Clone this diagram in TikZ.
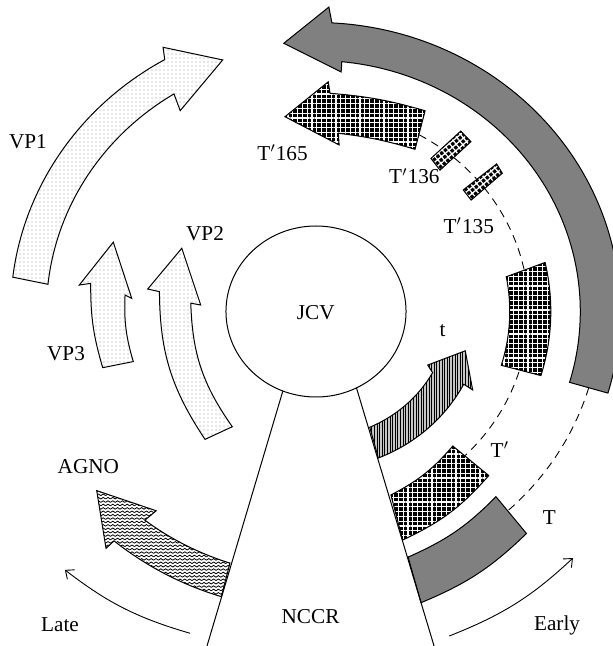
\documentclass[tikz,border=0pt]{standalone}
\usepackage{fontspec}
\setmainfont{Liberation Serif}
\usetikzlibrary{patterns,patterns.meta,arrows.meta}

% wavy fill of the agnoprotein arrow
\pgfdeclarepatternformonly{agnowave}{\pgfqpoint{-0.3pt}{-0.3pt}}{\pgfqpoint{2.7pt}{2pt}}{\pgfqpoint{2.4pt}{1.7pt}}{%
  \pgfsetlinewidth{0.4pt}%
  \pgfpathmoveto{\pgfqpoint{0pt}{0.4pt}}%
  \pgfpathcurveto{\pgfqpoint{0.5pt}{0.4pt}}{\pgfqpoint{0.7pt}{1.2pt}}{\pgfqpoint{1.2pt}{1.2pt}}%
  \pgfpathcurveto{\pgfqpoint{1.7pt}{1.2pt}}{\pgfqpoint{1.9pt}{0.4pt}}{\pgfqpoint{2.4pt}{0.4pt}}%
  \pgfusepath{stroke}}

\tikzset{
  outline/.style={draw=black,line width=0.5pt,line join=miter},
  dotfill/.style={outline,preaction={fill=white},pattern={Dots[distance=2pt,radius=0.3pt]},pattern color=gray!80},
  grayfill/.style={outline,fill=gray},
  checker/.style={outline,preaction={fill=black},pattern={Hatch[distance=2.4pt,line width=0.65pt,angle=#1]},pattern color=white},
  checker/.default=0,
  stripefill/.style={outline,preaction={fill=gray!45},pattern={Lines[angle=90,distance=1.3pt,line width=0.5pt]},pattern color=black},
  wavefill/.style={outline,preaction={fill=white},pattern=agnowave,pattern color=black},
  dashring/.style={line width=0.45pt,dash pattern=on 4pt off 3pt},
  phase/.style={line width=0.45pt,-{Straight Barb[length=3.5pt,width=6pt]}},
  lbl/.style={anchor=base,inner sep=0pt,font=\fontsize{10.6}{12}\selectfont},
}

\begin{document}
\begin{tikzpicture}[x=0.5pt,y=0.5pt]
 \begin{scope}[xscale=1.053]
   \useasboundingbox (-300.1,-334.5) rectangle (281.1,311.5);
   % dashed splice joins
   \draw[dashring] (61:202) arc[start angle=61,end angle=-45.5,radius=202];
   \draw[dashring] (-16.4:270) arc[start angle=-16.4,end angle=-47.5,radius=270];
   % late region
   \draw[dotfill] (173.2:290) arc[start angle=173.2,end angle=119.7,radius=290] -- (118.8:301.5) -- (109.4:266.7) -- (122.7:238.7) -- (121.8:256) arc[start angle=121.8,end angle=173.9,radius=256] -- cycle;
   \draw[dotfill] (195.5:210.2) to[bend left=8] (172.5:215.8) -- (173.3:226.4) -- (160.2:204.6) -- (175.7:175.5) -- (174.8:182.1) to[bend right=9] (196.1:180.6) -- cycle;
   \draw[dotfill] (230.5:165.7) to[bend left=16] (172.4:150) -- (172:161.4) -- (153.6:142.3) -- (176.6:109.7) -- (176:119.2) to[bend right=16] (235.4:140) -- cycle;
   \draw[wavefill] (252:264.5) arc[start angle=252,end angle=232.1,radius=264.5] -- (232.7:250.5) -- (220.7:274.7) -- (229.9:309.6) -- (230.1:299) arc[start angle=230.1,end angle=252.5,radius=299] -- cycle;
   % early region
   \draw[grayfill] (-16.4:289) arc[start angle=-16.4,end angle=87,radius=289] -- (87.7:304.7) -- (96.5:270) -- (84.3:240.7) -- (84.4:251) arc[start angle=84.4,end angle=-16.4,radius=251] -- cycle;
   \draw[checker] (62.7:225.9) to[bend right=6] (86.5:218.6) -- (87.1:230) -- (98.6:197) -- (82.5:168) -- (83.2:179.5) to[bend left=5] (59.9:187.5) -- cycle;
   \draw[checker=40] (54.5:188) -- (52.7:226.8) -- (49.1:224.7) -- (50.2:184) -- cycle;
   \draw[checker=40] (41:185.3) -- (40.7:226.3) -- (38:224.5) -- (37.1:184.7) -- cycle;
   \draw[checker] (10.9:184.4) -- (12.7:223) arc[start angle=12.7,end angle=-16.7,radius=223] -- (-17:184) arc[start angle=-17,end angle=10.9,radius=184] -- cycle;
   \draw[checker] (-68.8:196.8) to[bend right=11] (-46:187) -- (-45:232) to[bend left=12] (-70.2:242.9) -- cycle;
   \draw[grayfill] (-70.4:260.7) to[bend right=11] (-47.3:252) -- (-48:298.7) to[bend left=11] (-71.1:307.8) -- cycle;
   \draw[stripefill] (-66.2:126.5) arc[start angle=-66.2,end angle=-28.9,radius=126.5] -- (-26.8:118.8) -- (-15.5:147.1) -- (-27.8:168.2) -- (-27.4:158) arc[start angle=-27.4,end angle=-68,radius=158] -- cycle;
   % genome and control region
   \draw[outline] (0,0) circle[radius=85.5];
   \coordinate (nccrtl) at (248.4:85.5);
   \coordinate (nccrbl) at (-103.5,-334.5);
   \coordinate (nccrtr) at (296.7:85.5);
   \coordinate (nccrbr) at (112.1,-334.5);
   \draw[outline] (nccrtl) -- (nccrbl);
   \draw[outline] (nccrtr) -- (nccrbr);
   % transcription direction
   \draw[phase] (249.6:343.3) to[bend left=11] (227.3:351.6);
   \draw[phase] (-68.7:348.3) to[bend right=11] (-45.3:346.9);
   % labels
   \node[lbl] (jcv) at (-0.2,-8) {JCV};
   \node[lbl] (vp1) at (-273.5,162.5) {VP1};
   \node[lbl] (vp2) at (-105.4,70.8) {VP2};
   \node[lbl] (vp3) at (-237.4,-49.2) {VP3};
   \node[lbl] (agno) at (-216.2,-161.8) {AGNO};
   \node[lbl] (late) at (-243.1,-320.2) {Late};
   \node[lbl] (nccr) at (-5.2,-311.8) {NCCR};
   \node[lbl] (early) at (228.9,-318.5) {Early};
   \node[lbl] (bigt) at (221.6,-212.5) {T};
   \node[lbl] (tprime) at (174.7,-145.8) {T$^{\prime}$};
   \node[lbl] (smallt) at (120.3,-25.5) {t};
   \node[lbl] (t165) at (-31.8,150.8) {T$^{\prime}$165};
   \node[lbl] (t136) at (93.4,127.5) {T$^{\prime}$136};
   \node[lbl] (t135) at (145,78.2) {T$^{\prime}$135};
 \end{scope}
\end{tikzpicture}
\end{document}
